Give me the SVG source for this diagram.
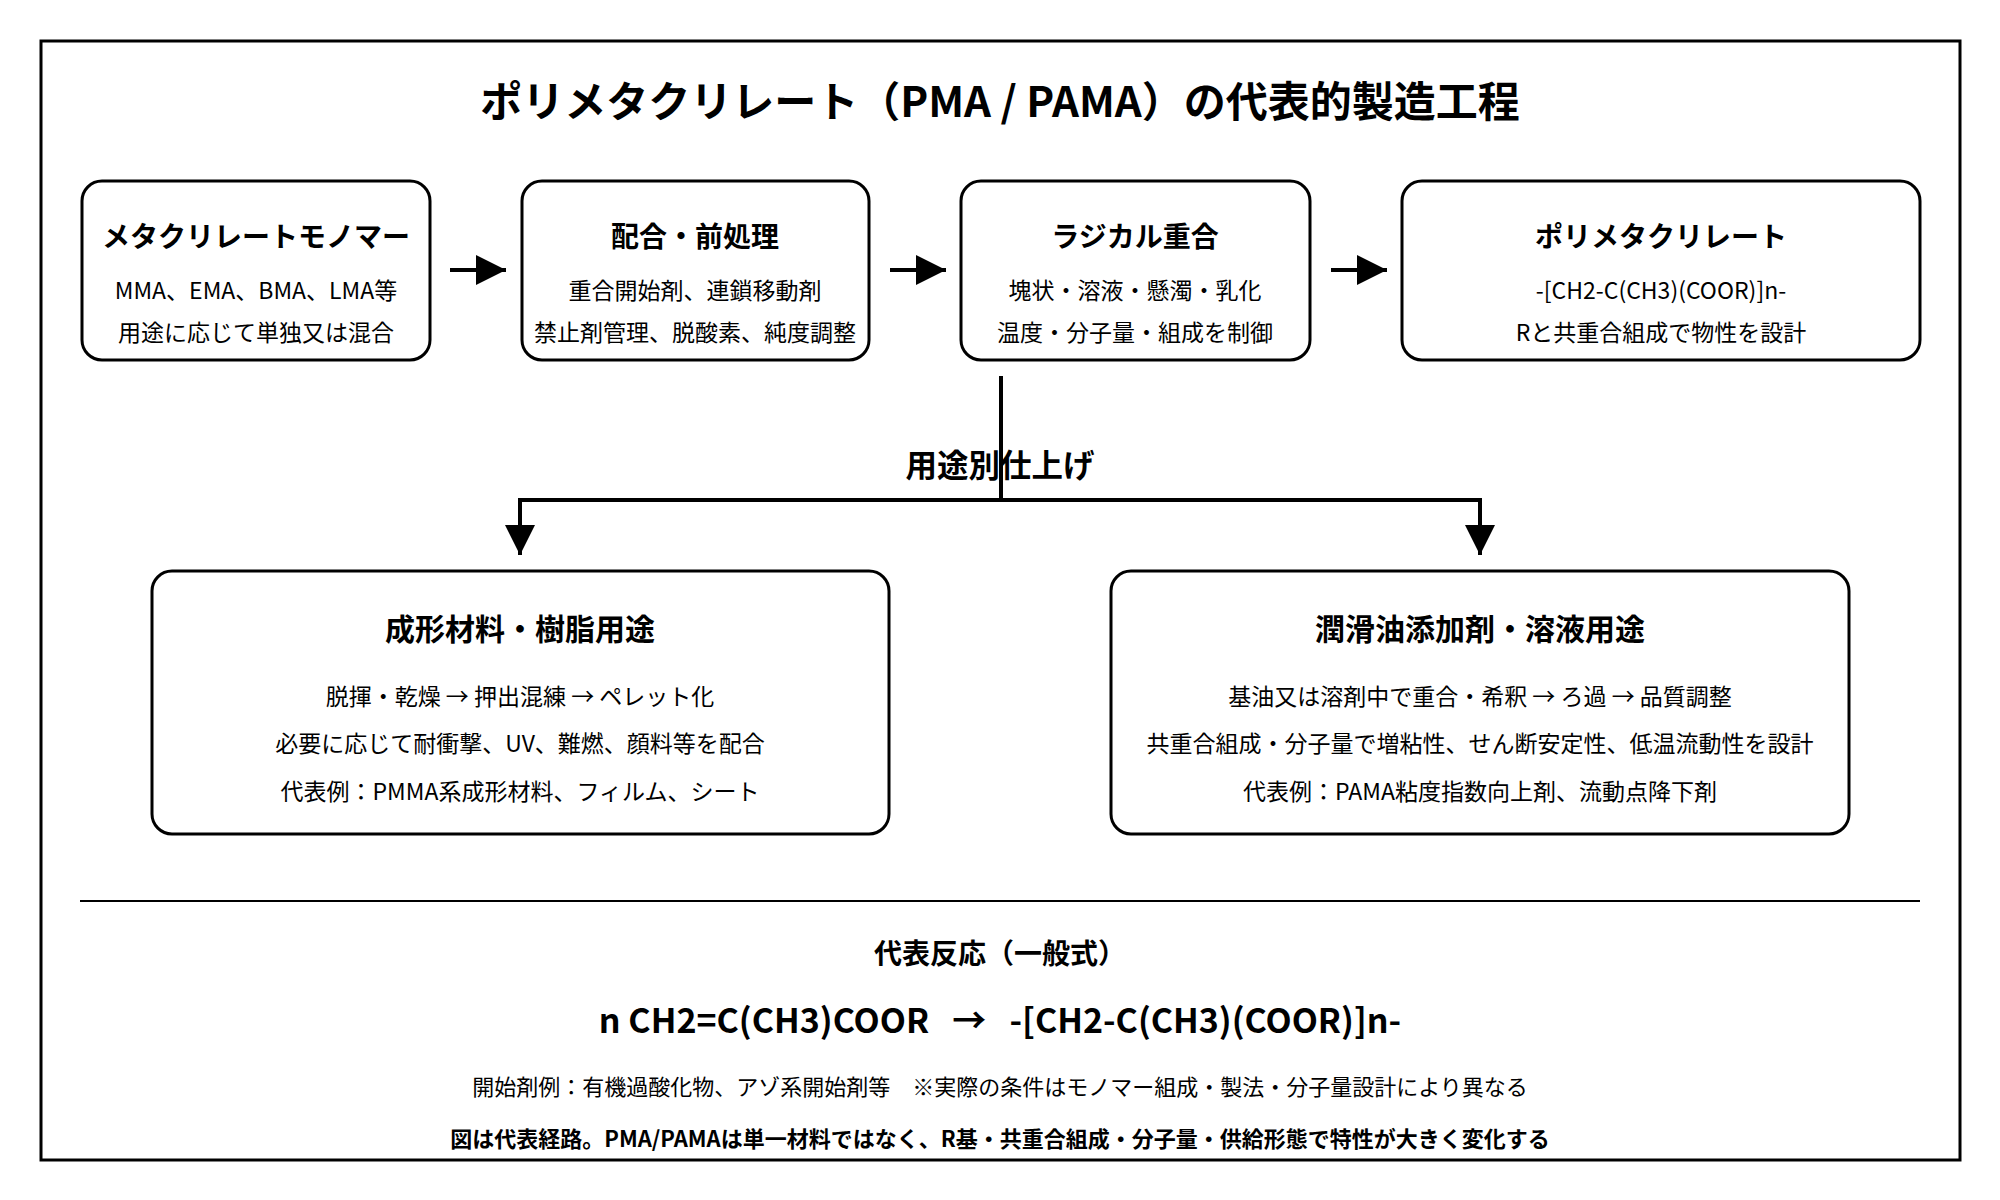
<svg xmlns="http://www.w3.org/2000/svg" width="2000" height="1200" viewBox="0 0 2000 1200">
<defs>
<style>
text{font-family:"Noto Sans CJK JP","Noto Sans",sans-serif;fill:#000;text-anchor:middle}
.t{font-size:42px;font-weight:700}
.h{font-size:28px;font-weight:700}
.h2{font-size:30px;font-weight:700}
.s{font-size:23px}
.n{font-size:22px}
.box{fill:#fff;stroke:#000;stroke-width:3}
.ln{fill:none;stroke:#000;stroke-width:4}
</style>
<marker id="ah" viewBox="0 0 10 10" refX="10" refY="5" markerWidth="7.5" markerHeight="7.5" markerUnits="strokeWidth" orient="auto">
<path d="M0,0 L10,5 L0,10 Z" fill="#000"/>
</marker>
</defs>
<rect x="0" y="0" width="2000" height="1200" fill="#fff"/>
<rect x="41" y="41" width="1919" height="1119" fill="none" stroke="#000" stroke-width="3"/>
<text class="t" x="1000" y="117">ポリメタクリレート（PMA / PAMA）の代表的製造工程</text>

<g id="node-monomer">
<rect class="box" x="82" y="181" width="348" height="179" rx="20"/>
<text class="h" x="256" y="247">メタクリレートモノマー</text>
<text class="s" x="256" y="299">MMA、EMA、BMA、LMA等</text>
<text class="s" x="256" y="341">用途に応じて単独又は混合</text>
</g>
<g id="node-prep">
<rect class="box" x="522" y="181" width="347" height="179" rx="20"/>
<text class="h" x="695" y="247">配合・前処理</text>
<text class="s" x="695" y="299">重合開始剤、連鎖移動剤</text>
<text class="s" x="695" y="341">禁止剤管理、脱酸素、純度調整</text>
</g>
<g id="node-poly">
<rect class="box" x="961" y="181" width="349" height="179" rx="20"/>
<text class="h" x="1135" y="247">ラジカル重合</text>
<text class="s" x="1135" y="299">塊状・溶液・懸濁・乳化</text>
<text class="s" x="1135" y="341">温度・分子量・組成を制御</text>
</g>
<g id="node-product">
<rect class="box" x="1402" y="181" width="518" height="179" rx="20"/>
<text class="h" x="1661" y="247">ポリメタクリレート</text>
<text class="s" x="1661" y="299">-[CH2-C(CH3)(COOR)]n-</text>
<text class="s" x="1661" y="341">Rと共重合組成で物性を設計</text>
</g>
<g id="node-molding">
<rect class="box" x="152" y="571" width="737" height="263" rx="20"/>
<text class="h2" x="520" y="640">成形材料・樹脂用途</text>
<text class="s" x="520" y="705">脱揮・乾燥 → 押出混練 → ペレット化</text>
<text class="s" x="520" y="752">必要に応じて耐衝撃、UV、難燃、顔料等を配合</text>
<text class="s" x="520" y="800">代表例：PMMA系成形材料、フィルム、シート</text>
</g>
<g id="node-lube">
<rect class="box" x="1111" y="571" width="738" height="263" rx="20"/>
<text class="h2" x="1480" y="640">潤滑油添加剤・溶液用途</text>
<text class="s" x="1480" y="705">基油又は溶剤中で重合・希釈 → ろ過 → 品質調整</text>
<text class="s" x="1480" y="752">共重合組成・分子量で増粘性、せん断安定性、低温流動性を設計</text>
<text class="s" x="1480" y="800">代表例：PAMA粘度指数向上剤、流動点降下剤</text>
</g>

<g id="connectors">
<line class="ln" x1="450" y1="270" x2="506" y2="270" marker-end="url(#ah)"/>
<line class="ln" x1="890" y1="270" x2="946" y2="270" marker-end="url(#ah)"/>
<line class="ln" x1="1331" y1="270" x2="1387" y2="270" marker-end="url(#ah)"/>
<text x="1000" y="477" style="font-size:31.5px;font-weight:700">用途別仕上げ</text>
<polyline class="ln" points="1001,376 1001,502"/>
<polyline class="ln" points="1001,500 520,500 520,555" marker-end="url(#ah)"/>
<polyline class="ln" points="1001,500 1480,500 1480,555" marker-end="url(#ah)"/>
</g>

<line x1="80" y1="901" x2="1920" y2="901" stroke="#000" stroke-width="2"/>
<text x="1000" y="964" style="font-size:28px;font-weight:700">代表反応（一般式）</text>
<text x="1000" y="1033" style="font-size:34px;font-weight:700" xml:space="preserve">n CH2=C(CH3)COOR   →   -[CH2-C(CH3)(COOR)]n-</text>
<text class="n" x="1000" y="1095" xml:space="preserve">開始剤例：有機過酸化物、アゾ系開始剤等　※実際の条件はモノマー組成・製法・分子量設計により異なる</text>
<text x="1000" y="1147" style="font-size:22px;font-weight:700">図は代表経路。PMA/PAMAは単一材料ではなく、R基・共重合組成・分子量・供給形態で特性が大きく変化する</text>
</svg>
